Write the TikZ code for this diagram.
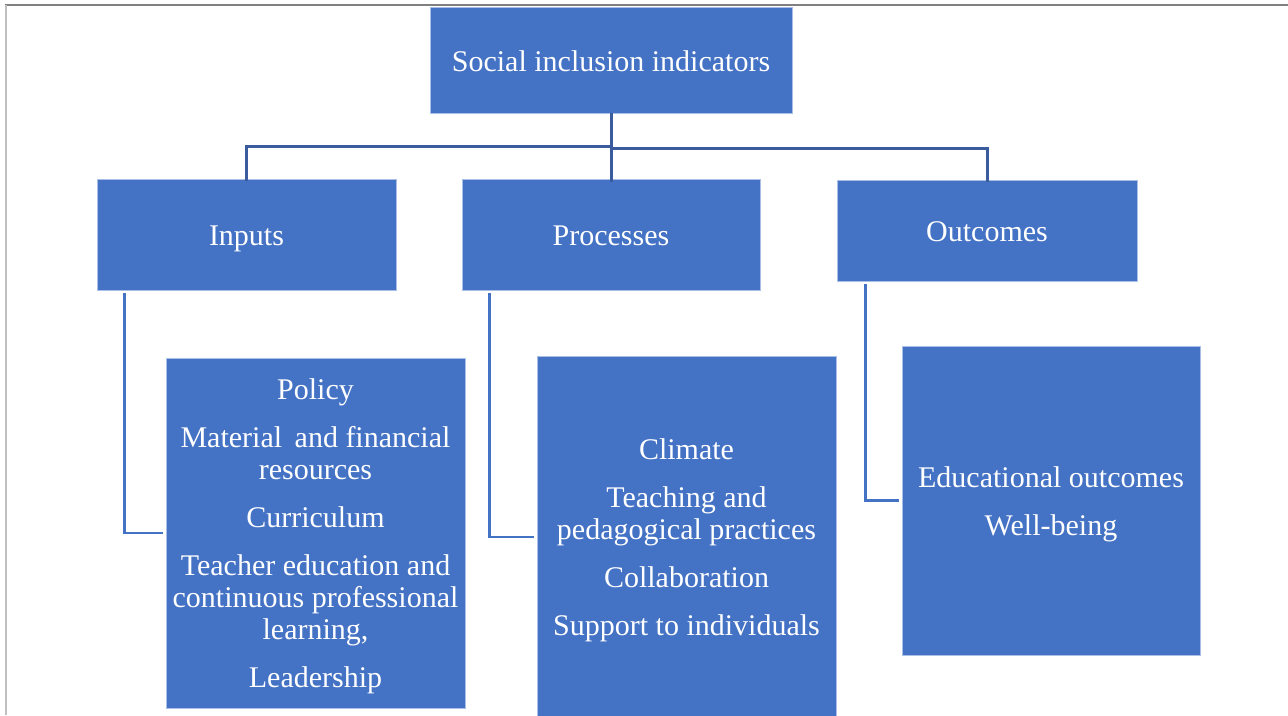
\documentclass[tikz,border=0pt]{standalone}
\usepackage{fontspec}
\setmainfont{Liberation Serif}
% invisible strut that lowers a multi-line block a little inside its box
\newcommand{\firstlinestrut}{\rule{0pt}{27.5pt}}
\begin{document}
\definecolor{boxblue}{HTML}{4472C4}
\definecolor{boxedge}{HTML}{A9BFE6}
\definecolor{treeline}{HTML}{3A5C9E}
\definecolor{frameA}{HTML}{808080}
\definecolor{frameB}{HTML}{C0C0C0}
\begin{tikzpicture}[x=1pt,y=-1pt,
  box/.style={draw=boxedge,line width=0.8pt,fill=boxblue,text=white,inner sep=0pt,
    align=center,font=\fontsize{30}{31.8}\selectfont},
  head/.style={box,text height=28.5pt,text depth=6.5pt},
  tree/.style={draw=treeline,line width=3pt},
  sub/.style={draw=boxblue,line width=2.4pt,shorten <=3pt,shorten >=3pt}]
\useasboundingbox (0,0) rectangle (1288,715);
% page frame
\draw[frameA,line width=1.5pt] (5,5) -- (1288,5);
\draw[frameB,line width=2pt] (5.5,5) -- (5.5,715);

% boxes
\node[head,minimum width=362pt,minimum height=106pt] (top) at (611,60) {Social inclusion indicators};
\node[head,minimum width=299pt,minimum height=111pt] (inp) at (246.5,234.5) {Inputs};
\node[head,minimum width=298pt,minimum height=111pt] (proc) at (611,234.5) {Processes};
\node[head,minimum width=300pt,minimum height=101pt] (outc) at (987,230.5) {Outcomes};

\node[box,minimum width=299pt,minimum height=350pt] (inpc) at (315.5,533)
  {\firstlinestrut Policy\\[16.2pt]Material\, and financial\\resources\\[16.2pt]Curriculum\\[16.2pt]Teacher education and\\continuous professional\\learning,\\[16.2pt]Leadership};
\node[box,minimum width=299pt,minimum height=362pt] (procc) at (686.5,537)
  {\firstlinestrut Climate\\[16.2pt]Teaching and\\pedagogical practices\\[16.2pt]Collaboration\\[16.2pt]Support to individuals};
\node[box,minimum width=298pt,minimum height=309pt] (outcc) at (1051,500.5)
  {\firstlinestrut Educational outcomes\\[16.2pt]Well-being};

% tree from the top box to the three groups
\coordinate (jl) at (611,146);
\coordinate (jr) at (611,148);
\draw[tree] (top.south) -- ([yshift=-3pt]proc.north);
\draw[tree] (jl) -| ([yshift=-2pt]inp.north);
\draw[tree] (jr) -| ([yshift=-2pt]outc.north);

% elbow connectors to the detail boxes
\draw[sub] ([xshift=28pt]inp.south west) |- (inpc.west);
\draw[sub] ([xshift=28pt]proc.south west) |- (procc.west);
\draw[sub] ([xshift=29pt]outc.south west) |- (outcc.west);
\end{tikzpicture}
\end{document}
